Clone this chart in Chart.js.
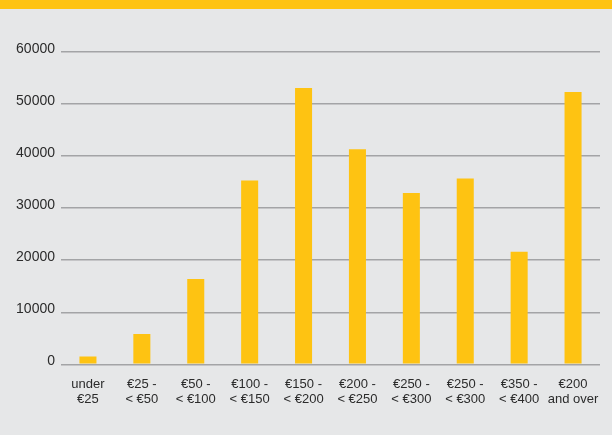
<!DOCTYPE html>
<html>
<head>
<meta charset="utf-8">
<script src="https://cdn.jsdelivr.net/npm/chart.js@4/dist/chart.umd.min.js"></script>
<style>
  html, body { margin: 0; padding: 0; background: #e6e7e8; }
  #wrap { position: relative; width: 612px; height: 435px; background: #e6e7e8; }
  #band { position: absolute; left: 0; top: 0; width: 612px; height: 9px; background: #fec312; }
  #box { position: absolute; left: 0; top: 0; width: 612px; height: 435px; }
</style>
</head>
<body>
<div id="wrap">
  <div id="band"></div>
  <div id="box"><canvas id="c"></canvas></div>
</div>
<script>
// Spending bands (two-line labels) and number of purchases in each band
const categories = [
  ['under', '€25'],
  ['€25 -', '< €50'],
  ['€50 -', '< €100'],
  ['€100 -', '< €150'],
  ['€150 -', '< €200'],
  ['€200 -', '< €250'],
  ['€250 -', '< €300'],
  ['€250 -', '< €300'],
  ['€350 -', '< €400'],
  ['€200', 'and over']
];
const counts = [1500, 5800, 16400, 35300, 53100, 41300, 32900, 35700, 21600, 52300];
const yTicks = [0, 10000, 20000, 30000, 40000, 50000, 60000];

const FONT = '"Liberation Sans", Arial, Helvetica, sans-serif';

new Chart(document.getElementById('c'), {
  type: 'bar',
  data: {
    labels: categories,
    datasets: [{
      data: counts,
      backgroundColor: '#fec312',
      borderWidth: 0,
      barPercentage: 0.316,
      categoryPercentage: 1
    }]
  },
  options: {
    responsive: true,
    maintainAspectRatio: false,
    animation: false,
    events: [],
    layout: { padding: { left: 0, right: 12, top: 52, bottom: 0 } },
    plugins: { legend: { display: false }, tooltip: { enabled: false } },
    scales: {
      x: {
        grid: { display: false, drawTicks: false },
        border: { display: false },
        ticks: {
          color: '#2b2b2b',
          font: { family: FONT, size: 13, lineHeight: 1.15 },
          padding: 13,
          maxRotation: 0,
          autoSkip: false
        },
        afterFit: (s) => { s.height = 70.7; }
      },
      y: {
        min: 0,
        max: 60000,
        afterBuildTicks: (s) => { s.ticks = yTicks.map(v => ({ value: v })); },
        grid: { color: '#a3a4a6', lineWidth: 1.5, drawTicks: false },
        border: { display: false },
        ticks: {
          color: '#2b2b2b',
          // an empty second line lifts each value label slightly above its grid line
          font: { family: FONT, size: 14, lineHeight: 0.43 },
          padding: 6,
          callback: (v) => [String(v), '']
        },
        afterFit: (s) => { s.width = 61; }
      }
    }
  }
});
</script>
</body>
</html>
